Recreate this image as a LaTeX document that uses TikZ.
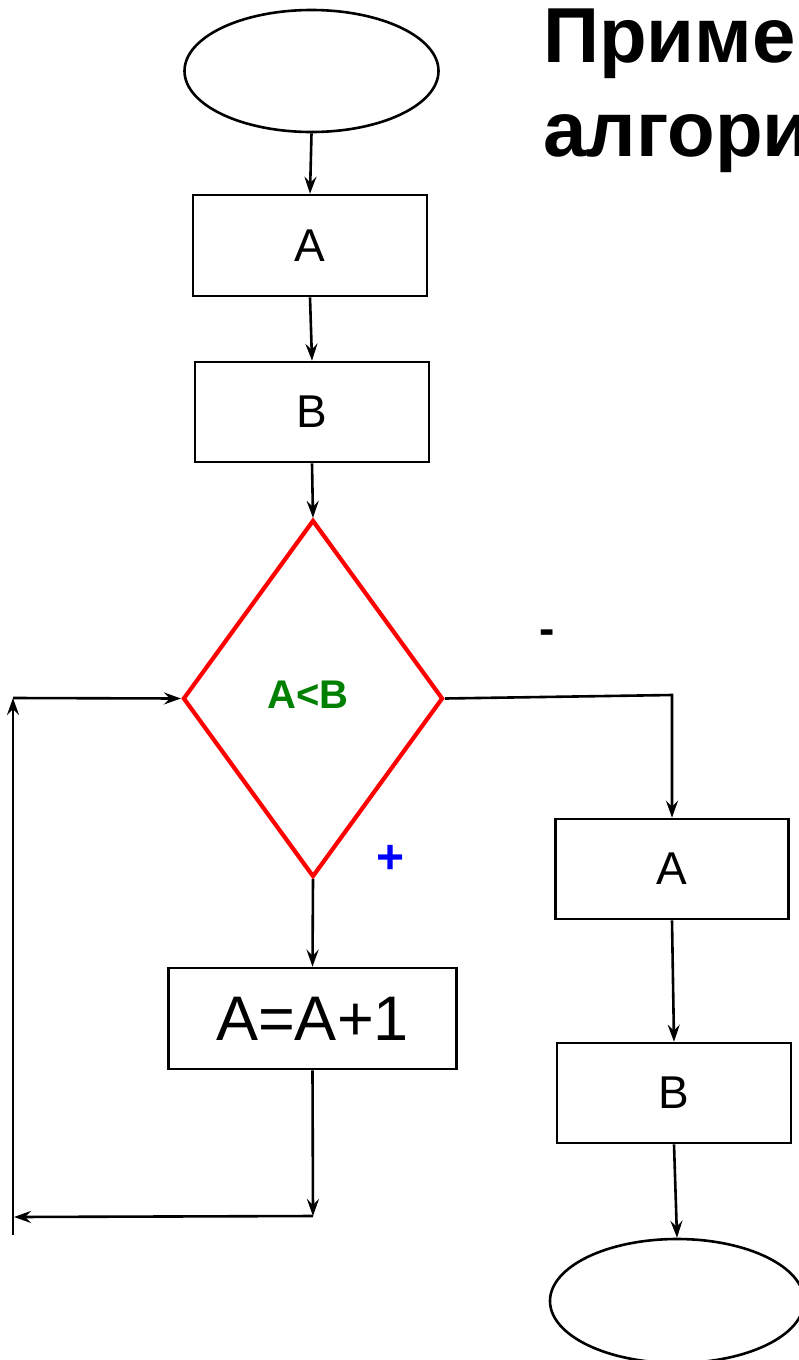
\documentclass[tikz,border=0pt]{standalone}
\usepackage{fontspec}
\setmainfont{Liberation Sans}
\usetikzlibrary{shapes.geometric,arrows.meta}
\tikzset{
  ln/.style={line width=2.6pt,black},
  arr/.style={ln,-{Stealth[length=17pt,width=12pt,inset=6pt]}},
  procbox/.style={draw,line width=2.6pt,rectangle,inner sep=0pt,font=\fontsize{46}{50}\selectfont},
  term/.style={draw,line width=2.6pt,ellipse,inner sep=0pt},
  decis/.style={draw=red,line width=4.2pt,diamond,inner sep=0pt,aspect=1},
}
\begin{document}
\begin{tikzpicture}[x=1pt,y=-1pt]
\useasboundingbox (0,0) rectangle (799,1360);
\clip (0,0) rectangle (799,1360);
% title
\node[anchor=base west,inner sep=0pt,font=\bfseries\fontsize{78}{80}\selectfont] (t1) at (543,62) {Пример};
\node[anchor=base west,inner sep=0pt,font=\bfseries\fontsize{78}{80}\selectfont] (t2) at (543,156) {алгоритма};
% nodes
\node[term,minimum width=254pt,minimum height=122pt] (e1) at (311.5,71) {};
\node[procbox,minimum width=234pt,minimum height=101pt] (a1) at (310,245.5) {A};
\node[procbox,minimum width=234pt,minimum height=100pt] (b1) at (312,412) {B};
\node[decis,minimum width=260pt,minimum height=357pt] (d) at (313,698.5) {};
\node[font=\bfseries\fontsize{40}{44}\selectfont,text=green!50!black,inner sep=0pt] (cond) at (308,695) {A<B};
\node[procbox,minimum width=288pt,minimum height=101pt,font=\fontsize{63}{66}\selectfont] (inc) at (312.5,1018.5) {A=A+1};
\node[procbox,minimum width=233pt,minimum height=100pt] (a2) at (672,869) {A};
\node[procbox,minimum width=234pt,minimum height=100pt] (b2) at (674,1093) {B};
\node[term,minimum width=254pt,minimum height=124pt] (e2) at (677,1301) {};
% labels
\node[font=\bfseries\fontsize{46}{48}\selectfont,inner sep=0pt] (minus) at (547,637) {-};
\node[font=\bfseries\fontsize{48}{50}\selectfont,text=blue,inner sep=0pt] (plus) at (391,859) {+};
% coordinates
\coordinate (c1) at (672,695);
\coordinate (c2) at (313,1216);
\coordinate (c3) at (14,1217);
\coordinate (c4) at (13,1235);
\coordinate (c5) at (13,698);
% connectors
\draw[arr] (e1.south) -- (a1.north);
\draw[arr] (a1.south) -- (b1.north);
\draw[arr] (b1.south) -- (d.north);
\draw[arr] (d.east) -- (c1) -- (a2.north);
\draw[arr] (d.south) -- (inc.north);
\draw[arr] (inc.south) -- (c2);
\draw[arr] (c2) -- (c3);
\draw[arr] (c4) -- (c5);
\draw[arr] (c5) -- (d.west);
\draw[arr] (a2.south) -- (b2.north);
\draw[arr] (b2.south) -- (e2.north);
\end{tikzpicture}
\end{document}
